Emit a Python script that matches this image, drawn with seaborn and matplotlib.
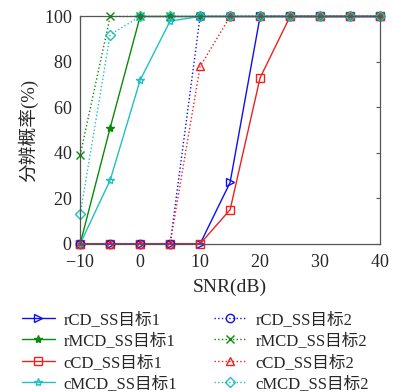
import matplotlib
matplotlib.use("Agg")
import matplotlib.pyplot as plt
import seaborn as sns
import pandas as pd

snr = [-10, -5, 0, 5, 10, 15, 20, 25, 30, 35, 40]
rCD_1 = [0, 0, 0, 0, 0, 27, 100, 100, 100, 100, 100]
rMCD_1 = [0, 51, 100, 100, 100, 100, 100, 100, 100, 100, 100]
cCD_1 = [0, 0, 0, 0, 0, 15, 73, 100, 100, 100, 100]
cMCD_1 = [0, 28, 72, 98, 100, 100, 100, 100, 100, 100, 100]
rCD_2 = [0, 0, 0, 0, 100, 100, 100, 100, 100, 100, 100]
rMCD_2 = [39, 100, 100, 100, 100, 100, 100, 100, 100, 100, 100]
cCD_2 = [0, 0, 0, 0, 78, 100, 100, 100, 100, 100, 100]
cMCD_2 = [13, 92, 100, 100, 100, 100, 100, 100, 100, 100, 100]

labels = ["rCD_SS目标1", "rMCD_SS目标1", "cCD_SS目标1", "cMCD_SS目标1",
          "rCD_SS目标2", "rMCD_SS目标2", "cCD_SS目标2", "cMCD_SS目标2"]
series = [rCD_1, rMCD_1, cCD_1, cMCD_1, rCD_2, rMCD_2, cCD_2, cMCD_2]

sns.set_style("white")
plt.rcParams['font.family'] = ['Liberation Serif', 'Noto Sans CJK SC', 'DejaVu Sans']
plt.rcParams['mathtext.fontset'] = 'cm'
plt.rcParams['axes.formatter.use_mathtext'] = True

blue, green, red, cyan = '#1010ee', '#0a8a0a', '#ee2020', '#20c0c0'
styles = [
    (blue, '-', '>', 'none'),
    (green, '-', '*', green),
    (red, '-', 's', 'none'),
    (cyan, '-', '*', 'none'),
    (blue, ':', 'o', 'none'),
    (green, ':', 'x', green),
    (red, ':', '^', 'none'),
    (cyan, ':', 'D', 'none'),
]

fig = plt.figure(figsize=(3.93, 3.92), dpi=100)
ax = fig.add_axes([0.204, 0.378, 0.763, 0.58])

for lab, ys, (c, ls, m, fc) in zip(labels, series, styles):
    df = pd.DataFrame({"SNR": snr, "P": ys})
    ms = 5 if m == 'D' else 6
    sns.lineplot(data=df, x="SNR", y="P", ax=ax, color=c, linestyle=ls,
                 marker=m, markersize=ms, markerfacecolor=fc,
                 markeredgecolor=c, markeredgewidth=1.0, linewidth=1.0,
                 label=lab, clip_on=False)

ax.set_xlim(-10, 40)
ax.set_ylim(0, 100)
ax.set_xticks([-10, 0, 10, 20, 30, 40])
ax.set_yticks([0, 20, 40, 60, 80, 100])
ax.tick_params(direction='in', top=True, right=True, length=3, labelsize=13,
               color='#555555', width=0.8)
ax.tick_params(axis='y', pad=6)
ax.tick_params(axis='x', pad=7)
for s in ax.spines.values():
    s.set_color('#555555')
    s.set_linewidth(0.9)
ax.set_xlabel("SNR(dB)", fontsize=14, labelpad=6)
ax.set_ylabel("分辨概率(%)", fontsize=13.5, labelpad=4)

handles, labs = ax.get_legend_handles_labels()
ax.get_legend().remove()
fig.legend(handles, labs, ncol=2, loc='upper left', bbox_to_anchor=(0.055, 0.205),
           frameon=False, fontsize=12, handlelength=2.0, columnspacing=2.2,
           labelspacing=0.33, handletextpad=0.5, borderpad=0, borderaxespad=0)

fig.savefig("out.png", dpi=100)
